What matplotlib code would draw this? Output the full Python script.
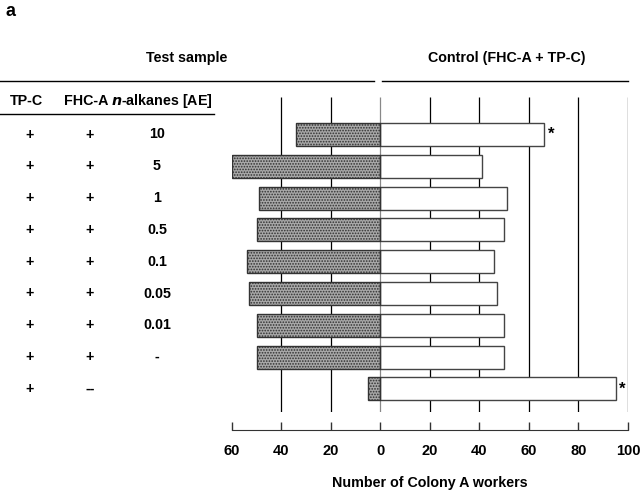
import matplotlib
matplotlib.use('Agg')
import matplotlib.pyplot as plt
import numpy as np

plt.rcParams['font.family'] = ['Liberation Sans', 'DejaVu Sans']
plt.rcParams['font.weight'] = 'bold'
plt.rcParams['hatch.linewidth'] = 0.8

# table columns (one entry per row, top to bottom)
tpc = ['+', '+', '+', '+', '+', '+', '+', '+', '+']
fhc = ['+', '+', '+', '+', '+', '+', '+', '+', '--']
alkanes = ['10', '5', '1', '0.5', '0.1', '0.05', '0.01', '-', '']

# number of Colony A workers
test_sample = [34, 60, 49, 50, 54, 53, 50, 50, 5]
control = [66, 41, 51, 50, 46, 47, 50, 50, 95]
signif = [True, False, False, False, False, False, False, False, True]

tick_vals = [-60, -40, -20, 0, 20, 40, 60, 80, 100]
grid_vals = [-40, -20, 0, 20, 40, 60, 80, 100]

W, H = 642, 497
fs = 10.3
fig = plt.figure(figsize=(W / 100, H / 100), dpi=100)


def fx(px):
    return px / W


def fy(py):
    return 1 - py / H


# main bar axes
ax_left, ax_right = 232, 628
ax_top, ax_bot = 97, 412
ax = fig.add_axes([fx(ax_left), fy(ax_bot), fx(ax_right - ax_left), (ax_bot - ax_top) / H])
row0, step = 134.5, 31.8
ax.set_xlim(-60, 100)
ax.set_ylim((ax_bot - row0) / step, (ax_top - row0) / step)
ax.axis('off')

rows = np.arange(len(test_sample))
for g in grid_vals:
    ax.vlines(g, *ax.get_ylim(), color='#888888' if g == 0 else 'black', lw=0.9, zorder=1)

neg = -np.array(test_sample)
ax.barh(rows, neg, height=0.72, color='#a8a8a8', edgecolor='#303030', lw=0, hatch='......', zorder=2)
ax.barh(rows, neg, height=0.72, fill=False, edgecolor='#333333', lw=1, zorder=3)
ax.barh(rows, control, height=0.72, color='white', edgecolor='#444444', lw=1, zorder=2)
for r, v, s in zip(rows, control, signif):
    if s:
        ax.text(v + 1.5, r, '*', ha='left', va='center', fontsize=12, fontweight='bold')

# bottom axis
ax2 = fig.add_axes([fx(ax_left), fy(430), fx(ax_right - ax_left), 0.0001])
ax2.set_xlim(-60, 100)
for s in ['top', 'left', 'right']:
    ax2.spines[s].set_visible(False)
ax2.spines['bottom'].set_color('#333333')
ax2.set_yticks([])
ax2.set_xticks(tick_vals)
ax2.set_xticklabels([str(abs(v)) for v in tick_vals], fontsize=10.5, fontweight='bold')
ax2.tick_params(axis='x', direction='in', length=6, width=1, pad=10, colors='#333333')
for lab in ax2.get_xticklabels():
    lab.set_color('black')
fig.text(fx(430), fy(483), 'Number of Colony A workers', ha='center', va='center',
         fontsize=fs, fontweight='bold')

# headers
fig.text(fx(10), fy(12), 'a', ha='center', va='center', fontsize=13, fontweight='bold')
fig.text(fx(187), fy(58), 'Test sample', ha='center', va='center', fontsize=fs, fontweight='bold')
fig.text(fx(507), fy(58), 'Control (FHC-A + TP-C)', ha='center', va='center',
         fontsize=fs, fontweight='bold')
fig.add_artist(plt.Line2D([fx(0), fx(374)], [fy(81), fy(81)], color='black', lw=1))
fig.add_artist(plt.Line2D([fx(382), fx(628)], [fy(81), fy(81)], color='black', lw=1))
fig.text(fx(26), fy(101), 'TP-C', ha='center', va='center', fontsize=fs, fontweight='bold')
fig.text(fx(86), fy(101), 'FHC-A', ha='center', va='center', fontsize=fs, fontweight='bold')
fig.text(fx(162), fy(101), r'$\mathbfit{n}$-alkanes [AE]', ha='center', va='center',
         fontsize=fs, fontweight='bold')
fig.add_artist(plt.Line2D([fx(0), fx(214)], [fy(114), fy(114)], color='black', lw=1))

for i in rows:
    py = row0 + step * i
    fig.text(fx(30), fy(py), tpc[i], ha='center', va='center', fontsize=fs, fontweight='bold')
    fig.text(fx(90), fy(py), fhc[i], ha='center', va='center', fontsize=fs, fontweight='bold')
    fig.text(fx(157), fy(py), alkanes[i], ha='center', va='center', fontsize=fs, fontweight='bold')

fig.savefig('out.png', dpi=100)
